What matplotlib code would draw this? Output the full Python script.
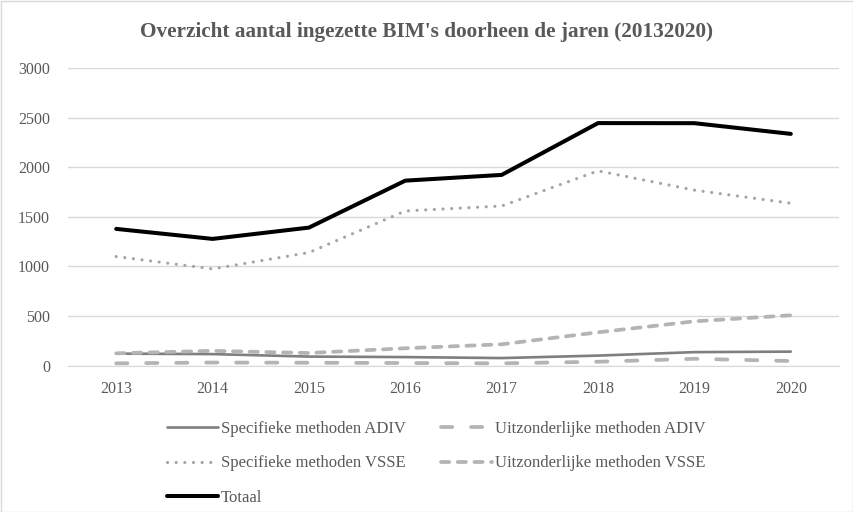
import matplotlib
matplotlib.use("Agg")
import matplotlib.pyplot as plt
from matplotlib.patches import Rectangle

years = ["2013", "2014", "2015", "2016", "2017", "2018", "2019", "2020"]
spec_adiv = [120, 115, 90, 85, 75, 100, 135, 140]
uitz_adiv = [22, 30, 28, 25, 22, 38, 68, 45]
spec_vsse = [1100, 975, 1140, 1560, 1610, 1965, 1770, 1638]
uitz_vsse = [123, 148, 126, 174, 214, 335, 446, 507]
totaal = [1379, 1278, 1392, 1866, 1924, 2447, 2446, 2338]

title = "Overzicht aantal ingezette BIM's doorheen de jaren (20132020)"
labels = ["Specifieke methoden ADIV", "Uitzonderlijke methoden ADIV",
          "Specifieke methoden VSSE", "Uitzonderlijke methoden VSSE", "Totaal"]

plt.rcParams['font.family'] = ['Liberation Serif', 'DejaVu Serif']
txt = '#595959'
grid = '#d9d9d9'

fig = plt.figure(figsize=(8.54, 5.12), dpi=100)
ax = fig.add_axes([68/854, 1-365.5/512, 771/854, (365.5-68.3)/512])

x = list(range(len(years)))
l_sa, = ax.plot(x, spec_adiv, color='#7f7f7f', lw=1.9, solid_capstyle='round', zorder=3)
l_ua, = ax.plot(x, uitz_adiv, color='#b4b4b4', lw=2.7, dashes=(3.0, 5.0),
                dash_capstyle='round', zorder=3)
l_sv, = ax.plot(x, spec_vsse, color='#a5a5a5', lw=2.3, dashes=(0.01, 2.7),
                dash_capstyle='round', zorder=3)
l_uv, = ax.plot(x, uitz_vsse, color='#b4b4b4', lw=2.7, dashes=(2.2, 2.25),
                dash_capstyle='round', zorder=3)
l_t, = ax.plot(x, totaal, color='#000000', lw=2.9, solid_capstyle='round',
               solid_joinstyle='round', zorder=4)

ax.set_xlim(-0.5, len(years) - 0.5)
ax.set_ylim(0, 3000)
ax.set_yticks(range(0, 3001, 500))
ax.set_xticks(x)
ax.set_xticklabels(years)
ax.yaxis.grid(True, color=grid, lw=1)
ax.set_axisbelow(True)
for s in ['top', 'right', 'left']:
    ax.spines[s].set_visible(False)
ax.spines['bottom'].set_color(grid)
ax.tick_params(axis='both', length=0, labelsize=11.5, colors=txt)
ax.tick_params(axis='y', pad=13)
ax.tick_params(axis='x', pad=11)

fig.text(0.5, 1-32/512, title, ha='center', va='center', fontsize=15.3,
         fontweight='bold', color=txt)

handles = [l_sa, l_sv, l_t, l_ua, l_uv]
hl = [labels[0], labels[2], labels[4], labels[1], labels[3]]
leg = fig.legend(handles, hl, loc='upper left', bbox_to_anchor=(167/854, 1-421/512),
                 ncol=2, frameon=False, fontsize=12, handlelength=3.05,
                 handletextpad=0.2, columnspacing=2.1, labelspacing=1.1,
                 borderpad=0, borderaxespad=0)
for t in leg.get_texts():
    t.set_color(txt)

fig.patches.append(Rectangle((0.5/854, 0.5/512), 1-1/854, 1-1/512, transform=fig.transFigure,
                             fill=False, edgecolor=grid, lw=1))

fig.savefig('out.png', dpi=100, facecolor='white')
